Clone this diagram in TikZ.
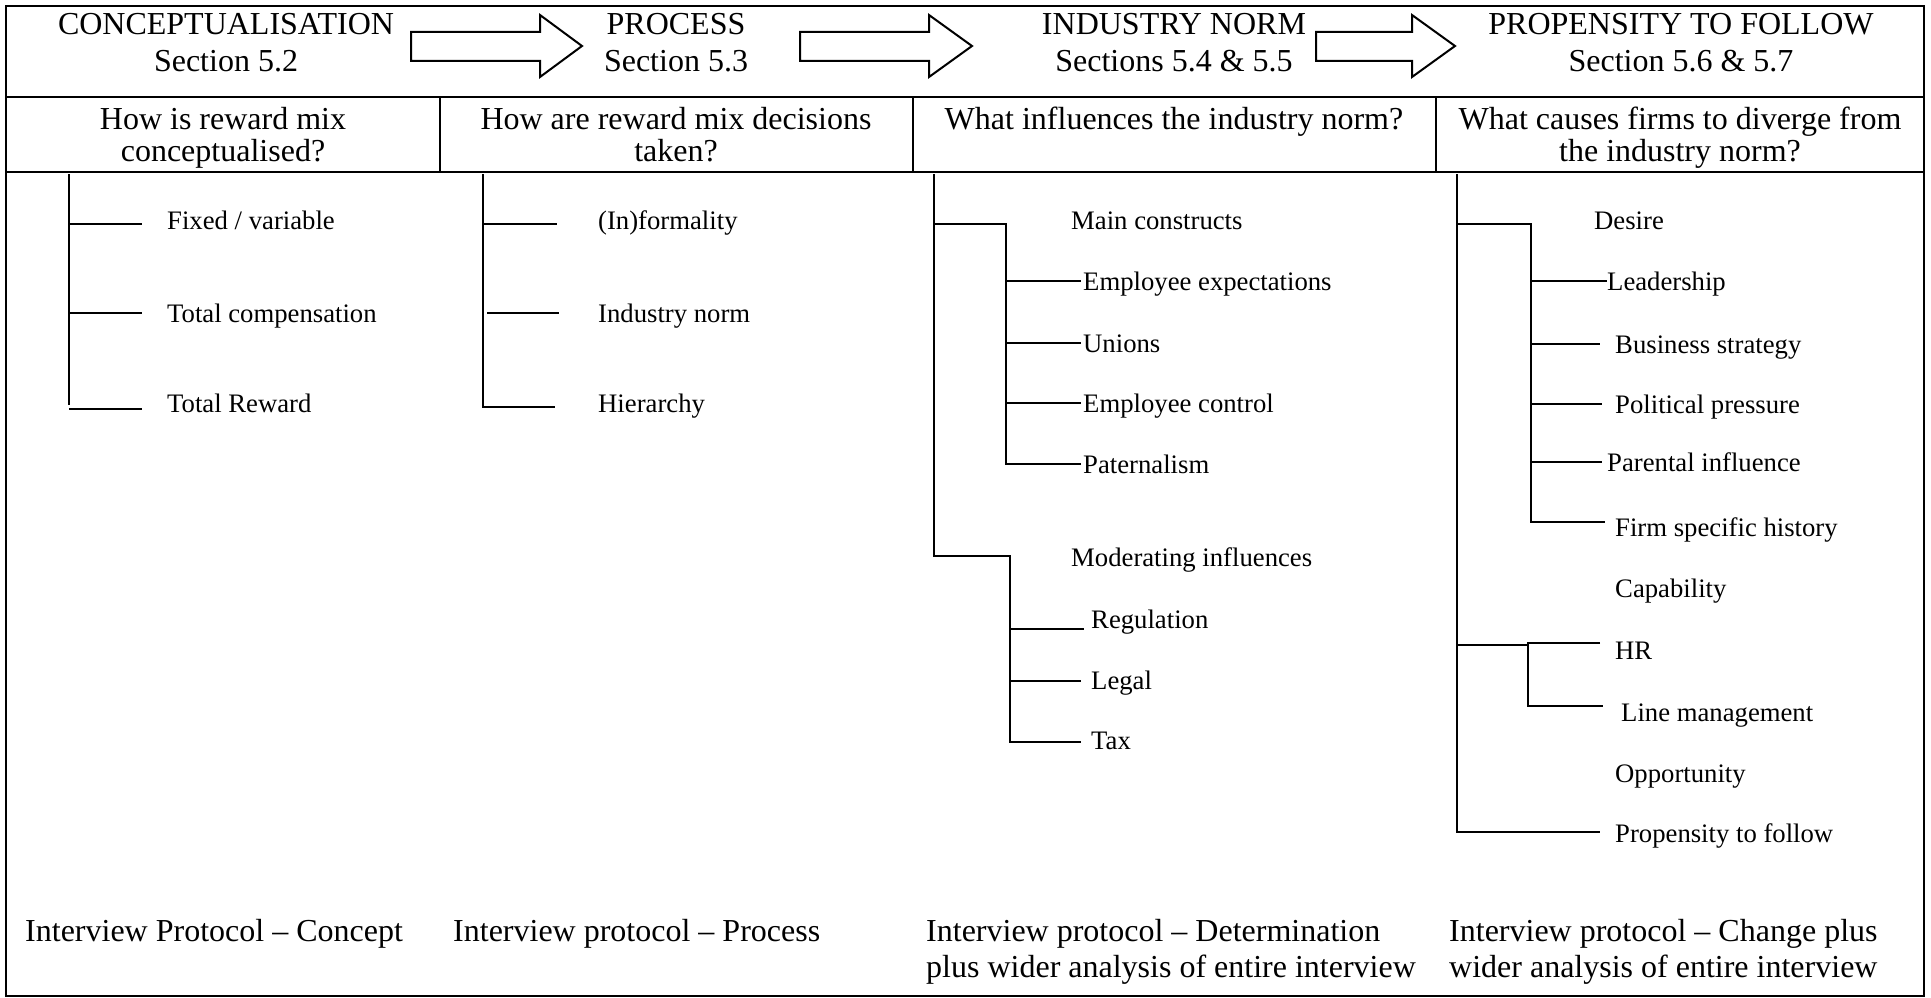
\documentclass[tikz,border=0pt]{standalone}
\usepackage{fontspec}
\setmainfont{Liberation Serif}
\begin{document}
\begin{tikzpicture}[x=1pt,y=-1pt,
  frame/.style={line width=2.8pt},
  rule/.style={line width=2pt},
  twig/.style={line width=2pt},
  blockarrow/.style={line width=2pt, line join=miter},
  big/.style={font=\fontsize{32}{37}\selectfont, inner sep=0pt},
  head/.style={big, anchor=base},
  foot/.style={big, anchor=base west},
  item/.style={font=\fontsize{26.7}{31}\selectfont, inner sep=0pt, anchor=base west},
]
\useasboundingbox (0,0) rectangle (1931,998);

% ---- table frame ----
\draw[frame] (6,6) rectangle (1924,996);
\draw[frame] (6,97) -- (1924,97);
\draw[frame] (6,172) -- (1924,172);
\foreach \x in {440,913,1436} \draw[rule] (\x,97) -- (\x,172);

% ---- stage headings ----
\node[head] (s1a) at (226,35) {CONCEPTUALISATION};
\node[head] (s1b) at (226,72) {Section 5.2};
\node[head] (s2a) at (676,35) {PROCESS};
\node[head] (s2b) at (676,72) {Section 5.3};
\node[head] (s3a) at (1174,35) {INDUSTRY NORM};
\node[head] (s3b) at (1174,72) {Sections 5.4 \& 5.5};
\node[head] (s4a) at (1681,35) {PROPENSITY TO FOLLOW};
\node[head] (s4b) at (1681,72) {Section 5.6 \& 5.7};

% ---- block arrows between stages ----
\newcommand\stagearrow[3]{%
  \draw[blockarrow] (#1,32) -- (#3,32) -- (#3,15) -- (#2,46) -- (#3,77) -- (#3,61) -- (#1,61) -- cycle;}
\stagearrow{411}{582}{540}
\stagearrow{800}{972}{929}
\stagearrow{1316}{1455}{1412}

% ---- research questions ----
\node[head] (q1a) at (223,129) {How is reward mix};
\node[head] (q1b) at (223,161) {conceptualised?};
\node[head] (q2a) at (676,129) {How are reward mix decisions};
\node[head] (q2b) at (676,161) {taken?};
\node[head] (q3a) at (1174,129) {What influences the industry norm?};
\node[head] (q4a) at (1680,129) {What causes firms to diverge from};
\node[head] (q4b) at (1680,161) {the industry norm?};

% ---- tree 1: conceptualisation ----
\node[item] (c1) at (167,229) {Fixed / variable};
\node[item] (c2) at (167,322) {Total compensation};
\node[item] (c3) at (167,412) {Total Reward};
\coordinate (c0) at (69,174);
\draw[twig] (c0) -- (69,405);
\draw[twig] (69,224) -- (142,224);
\draw[twig] (69,313) -- (142,313);
\draw[twig] (69,409) -- (142,409);

% ---- tree 2: process ----
\node[item] (p1) at (598,229) {(In)formality};
\node[item] (p2) at (598,322) {Industry norm};
\node[item] (p3) at (598,412) {Hierarchy};
\coordinate (p0) at (483,174);
\draw[twig] (p0) -- (483,407) -- (555,407);
\draw[twig] (483,224) -- (557,224);
\draw[twig] (487,313) -- (559,313);

% ---- tree 3: industry norm ----
\node[item] (n1) at (1071,229) {Main constructs};
\node[item] (n11) at (1083,290) {Employee expectations};
\node[item] (n12) at (1083,352) {Unions};
\node[item] (n13) at (1083,412) {Employee control};
\node[item] (n14) at (1083,473) {Paternalism};
\node[item] (n2) at (1071,566) {Moderating influences};
\node[item] (n21) at (1091,628) {Regulation};
\node[item] (n22) at (1091,689) {Legal};
\node[item] (n23) at (1091,749) {Tax};
\coordinate (n0) at (934,174);
\draw[twig] (n0) -- (934,556) -- (1010,556) -- (1010,742) -- (1081,742);
\draw[twig] (934,224) -- (1006,224) -- (1006,464) -- (1081,464);
\foreach \y in {281,343,403} \draw[twig] (1006,\y) -- (1081,\y);
\draw[twig] (1010,629) -- (1084,629);
\draw[twig] (1010,681) -- (1081,681);

% ---- tree 4: propensity to follow ----
\node[item] (f1) at (1594,229) {Desire};
\node[item] (f11) at (1607,290) {Leadership};
\node[item] (f12) at (1615,353) {Business strategy};
\node[item] (f13) at (1615,413) {Political pressure};
\node[item] (f14) at (1607,471) {Parental influence};
\node[item] (f15) at (1615,536) {Firm specific history};
\node[item] (f2) at (1615,597) {Capability};
\node[item] (f21) at (1615,659) {HR};
\node[item] (f22) at (1621,721) {Line management};
\node[item] (f3) at (1615,782) {Opportunity};
\node[item] (f4) at (1615,842) {Propensity to follow};
\coordinate (f0) at (1457,174);
\draw[twig] (f0) -- (1457,832) -- (1600,832);
\draw[twig] (1457,224) -- (1531,224) -- (1531,522) -- (1605,522);
\draw[twig] (1531,281) -- (1607,281);
\draw[twig] (1531,344) -- (1600,344);
\draw[twig] (1531,404) -- (1602,404);
\draw[twig] (1531,462) -- (1602,462);
\draw[twig] (1457,645) -- (1528,645);
\draw[twig] (1600,643) -- (1528,643) -- (1528,706) -- (1603,706);

% ---- data sources ----
\node[foot] (d1) at (25,941) {Interview Protocol – Concept};
\node[foot] (d2) at (453,941) {Interview protocol – Process};
\node[foot] (d3a) at (926,941) {Interview protocol – Determination};
\node[foot] (d3b) at (926,977) {plus wider analysis of entire interview};
\node[foot] (d4a) at (1449,941) {Interview protocol – Change plus};
\node[foot] (d4b) at (1449,977) {wider analysis of entire interview};
\end{tikzpicture}
\end{document}
